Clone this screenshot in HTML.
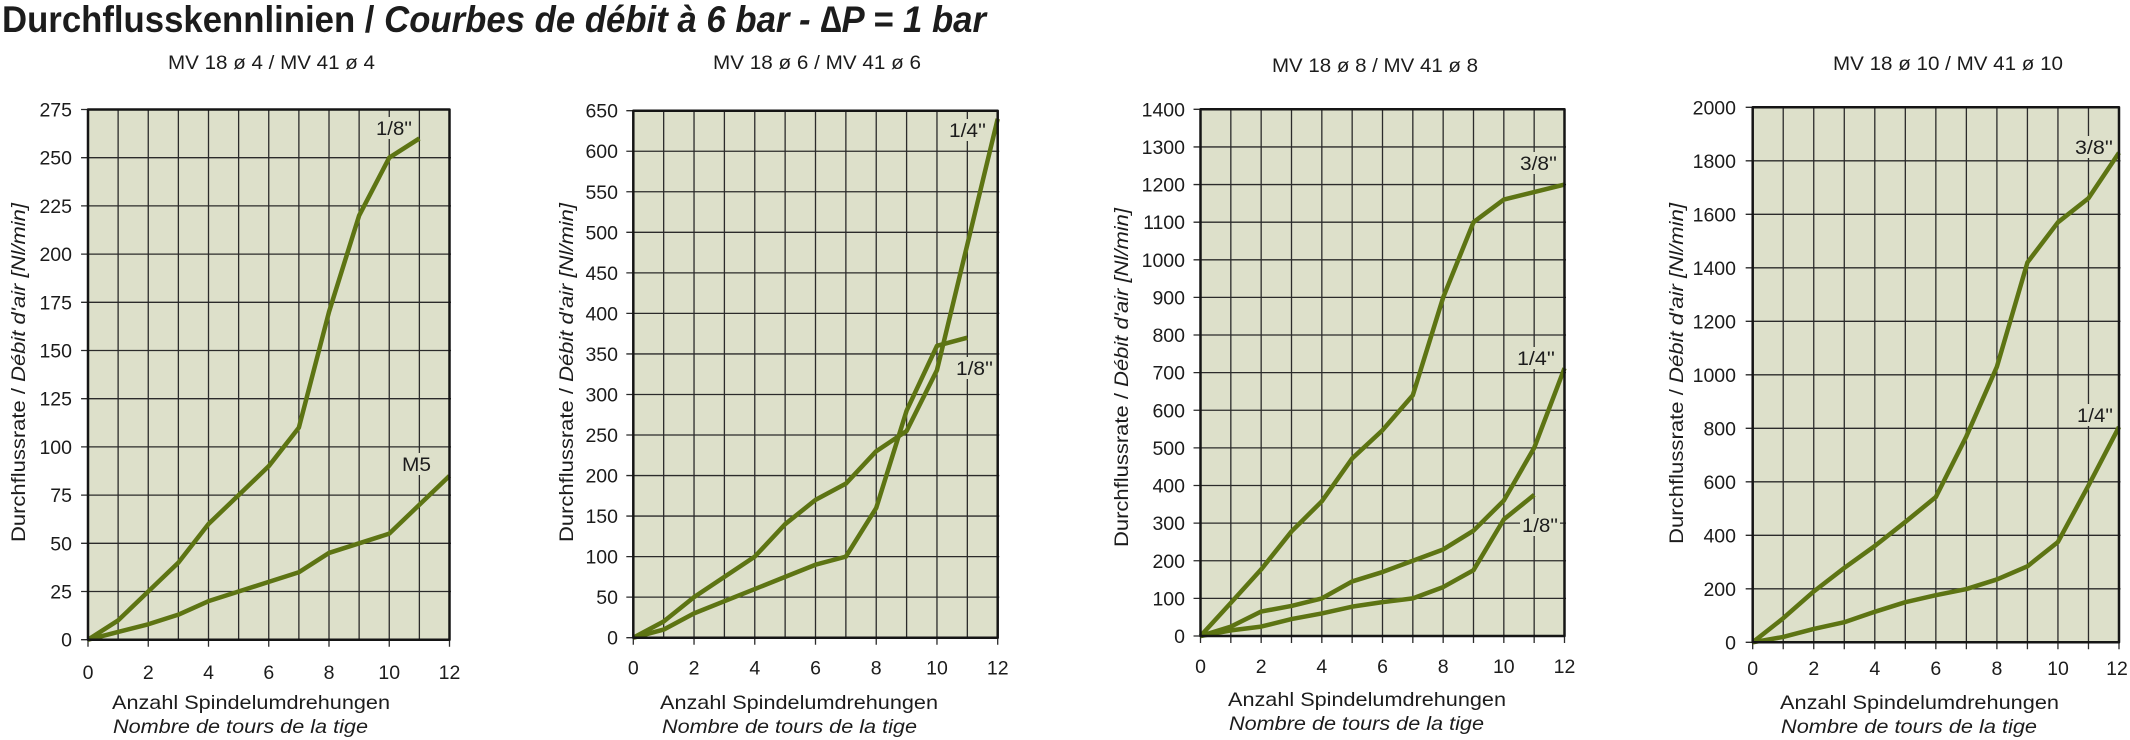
<!DOCTYPE html>
<html><head><meta charset="utf-8"><style>
html,body{margin:0;padding:0;background:#fff;}
svg{display:block;}
text{font-family:"Liberation Sans",Arial,sans-serif;fill:#1c1c1c;}
.t{font-size:19.5px;}
.it{font-style:italic;}
</style></head><body>
<svg width="2130" height="740" viewBox="0 0 2130 740" xmlns="http://www.w3.org/2000/svg">
<rect width="2130" height="740" fill="#fff"/>
<text x="2" y="32" font-size="37" font-weight="bold" textLength="984" lengthAdjust="spacingAndGlyphs">Durchflusskennlinien / <tspan font-style="italic">Courbes de débit à 6 bar - ∆P = 1 bar</tspan></text>

<!-- ===== Chart 1 ===== -->
<text class="t" x="168" y="69" textLength="207" lengthAdjust="spacingAndGlyphs">MV 18 ø 4 / MV 41 ø 4</text>
<g transform="translate(88,639.7) scale(30.125,-1.928)">
<rect x="0" y="0" width="12" height="275" fill="#dde0ca"/>
<path d="M-0.23 0H0M-0.23 275H0M-0.23 25H12.05M-0.23 50H12.05M-0.23 75H12.05M-0.23 100H12.05M-0.23 125H12.05M-0.23 150H12.05M-0.23 175H12.05M-0.23 200H12.05M-0.23 225H12.05M-0.23 250H12.05M1 0V275M2 0V275M3 0V275M4 0V275M5 0V275M6 0V275M7 0V275M8 0V275M9 0V275M10 0V275M11 0V275M0 -3.63V0M2 -3.63V0M4 -3.63V0M6 -3.63V0M8 -3.63V0M10 -3.63V0M12 -3.63V0" stroke="#2b2b2b" stroke-width="1.3" fill="none" vector-effect="non-scaling-stroke"/>
</g>
<rect x="374" y="117" width="40" height="22" fill="#dde0ca"/>
<rect x="400" y="453" width="33" height="22" fill="#dde0ca"/>
<g transform="translate(88,639.7) scale(30.125,-1.928)" fill="none" stroke="#5d7413" stroke-width="4.5" stroke-linejoin="round" vector-effect="non-scaling-stroke">
<polyline vector-effect="non-scaling-stroke" points="0,0 1,10 2,25 3,40 4,60 5,75 6,90 7,110 8,170 9,220 10,250 11,260"/>
<polyline vector-effect="non-scaling-stroke" points="0,0 1,4 2,8 3,13 4,20 5,25 6,30 7,35 8,45 9,50 10,55 11,70 12,85"/>
<rect x="0" y="0" width="12" height="275" stroke="#151515" stroke-width="2.5" vector-effect="non-scaling-stroke"/>
</g>
<text class="t" x="376" y="135" textLength="36" lengthAdjust="spacingAndGlyphs">1/8''</text>
<text class="t" x="402" y="471" textLength="29" lengthAdjust="spacingAndGlyphs">M5</text>
<g class="t" text-anchor="end">
<text x="72" y="646.7">0</text><text x="72" y="598.5">25</text><text x="72" y="550.3">50</text><text x="72" y="502.1">75</text><text x="72" y="453.9">100</text><text x="72" y="405.7">125</text><text x="72" y="357.5">150</text><text x="72" y="309.3">175</text><text x="72" y="261.1">200</text><text x="72" y="212.9">225</text><text x="72" y="164.7">250</text><text x="72" y="116.5">275</text>
</g>
<g class="t" text-anchor="middle">
<text x="88" y="679">0</text><text x="148.25" y="679">2</text><text x="208.5" y="679">4</text><text x="268.75" y="679">6</text><text x="329" y="679">8</text><text x="389.25" y="679">10</text><text x="449.5" y="679">12</text>
</g>
<text class="t" x="112" y="709" textLength="278" lengthAdjust="spacingAndGlyphs">Anzahl Spindelumdrehungen</text>
<text class="t it" x="113" y="733" textLength="255" lengthAdjust="spacingAndGlyphs">Nombre de tours de la tige</text>
<text class="t" text-anchor="middle" transform="translate(25,372.5) rotate(-90)" textLength="339" lengthAdjust="spacingAndGlyphs">Durchflussrate / <tspan class="it">Débit d'air [Nl/min]</tspan></text>

<!-- ===== Chart 2 ===== -->
<text class="t" x="713" y="69" textLength="208" lengthAdjust="spacingAndGlyphs">MV 18 ø 6 / MV 41 ø 6</text>
<g transform="translate(633.3,637.7) scale(30.367,-0.81077)">
<rect x="0" y="0" width="12" height="650" fill="#dde0ca"/>
<path d="M-0.23 0H0M-0.23 650H0M-0.23 50H12.05M-0.23 100H12.05M-0.23 150H12.05M-0.23 200H12.05M-0.23 250H12.05M-0.23 300H12.05M-0.23 350H12.05M-0.23 400H12.05M-0.23 450H12.05M-0.23 500H12.05M-0.23 550H12.05M-0.23 600H12.05M1 0V650M2 0V650M3 0V650M4 0V650M5 0V650M6 0V650M7 0V650M8 0V650M9 0V650M10 0V650M11 0V650M0 -8.63V0M2 -8.63V0M4 -8.63V0M6 -8.63V0M8 -8.63V0M10 -8.63V0M12 -8.63V0" stroke="#2b2b2b" stroke-width="1.3" fill="none" vector-effect="non-scaling-stroke"/>
</g>
<rect x="947" y="119" width="41" height="22" fill="#dde0ca"/>
<rect x="954" y="357" width="41" height="22" fill="#dde0ca"/>
<g transform="translate(633.3,637.7) scale(30.367,-0.81077)" fill="none" stroke="#5d7413" stroke-width="4.5" stroke-linejoin="round">
<polyline vector-effect="non-scaling-stroke" points="0,0 1,10 2,30 3,45 4,60 5,75 6,90 7,100 8,160 9,280 10,360 11,370"/>
<polyline vector-effect="non-scaling-stroke" points="0,0 1,20 2,50 3,75 4,100 5,140 6,170 7,190 8,230 9,255 10,330 11,485 12,640"/>
<rect x="0" y="0" width="12" height="650" stroke="#151515" stroke-width="2.5" vector-effect="non-scaling-stroke"/>
</g>
<text class="t" x="949" y="137" textLength="37" lengthAdjust="spacingAndGlyphs">1/4''</text>
<text class="t" x="956" y="375" textLength="37" lengthAdjust="spacingAndGlyphs">1/8''</text>
<g class="t" text-anchor="end">
<text x="618" y="644.7">0</text><text x="618" y="604.2">50</text><text x="618" y="563.6">100</text><text x="618" y="523.1">150</text><text x="618" y="482.5">200</text><text x="618" y="442">250</text><text x="618" y="401.5">300</text><text x="618" y="360.9">350</text><text x="618" y="320.4">400</text><text x="618" y="279.8">450</text><text x="618" y="239.3">500</text><text x="618" y="198.8">550</text><text x="618" y="158.2">600</text><text x="618" y="117.7">650</text>
</g>
<g class="t" text-anchor="middle">
<text x="633.3" y="674.5">0</text><text x="694" y="674.5">2</text><text x="754.8" y="674.5">4</text><text x="815.5" y="674.5">6</text><text x="876.2" y="674.5">8</text><text x="937" y="674.5">10</text><text x="997.7" y="674.5">12</text>
</g>
<text class="t" x="660" y="709" textLength="278" lengthAdjust="spacingAndGlyphs">Anzahl Spindelumdrehungen</text>
<text class="t it" x="662" y="733" textLength="255" lengthAdjust="spacingAndGlyphs">Nombre de tours de la tige</text>
<text class="t" text-anchor="middle" transform="translate(573,372.5) rotate(-90)" textLength="339" lengthAdjust="spacingAndGlyphs">Durchflussrate / <tspan class="it">Débit d'air [Nl/min]</tspan></text>

<!-- ===== Chart 3 ===== -->
<text class="t" x="1272" y="72" textLength="206" lengthAdjust="spacingAndGlyphs">MV 18 ø 8 / MV 41 ø 8</text>
<g transform="translate(1200.5,636) scale(30.333,-0.37621)">
<rect x="0" y="0" width="12" height="1400" fill="#dde0ca"/>
<path d="M-0.23 0H0M-0.23 1400H0M-0.23 100H12.05M-0.23 200H12.05M-0.23 300H12.05M-0.23 400H12.05M-0.23 500H12.05M-0.23 600H12.05M-0.23 700H12.05M-0.23 800H12.05M-0.23 900H12.05M-0.23 1000H12.05M-0.23 1100H12.05M-0.23 1200H12.05M-0.23 1300H12.05M1 -18.6V1400M2 -18.6V1400M3 -18.6V1400M4 -18.6V1400M5 -18.6V1400M6 -18.6V1400M7 -18.6V1400M8 -18.6V1400M9 -18.6V1400M10 -18.6V1400M11 -18.6V1400M0 -18.6V0M12 -18.6V0" stroke="#2b2b2b" stroke-width="1.3" fill="none" vector-effect="non-scaling-stroke"/>
</g>
<rect x="1518" y="152" width="41" height="22" fill="#dde0ca"/>
<rect x="1515" y="347" width="42" height="22" fill="#dde0ca"/>
<rect x="1520" y="514" width="40" height="22" fill="#dde0ca"/>
<g transform="translate(1200.5,636) scale(30.333,-0.37621)" fill="none" stroke="#5d7413" stroke-width="4.5" stroke-linejoin="round">
<polyline vector-effect="non-scaling-stroke" points="0,0 1,88 2,177 3,278 4,358 5,472 6,547 7,640 8,900 9,1100 10,1160 11,1180 12,1200"/>
<polyline vector-effect="non-scaling-stroke" points="0,0 1,25 2,65 3,80 4,100 5,145 6,170 7,200 8,230 9,280 10,360 11,500 12,712"/>
<polyline vector-effect="non-scaling-stroke" points="0,0 1,15 2,25 3,45 4,60 5,78 6,90 7,100 8,130 9,175 10,310 11,375"/>
<rect x="0" y="0" width="12" height="1400" stroke="#151515" stroke-width="2.5" vector-effect="non-scaling-stroke"/>
</g>
<text class="t" x="1520" y="170" textLength="37" lengthAdjust="spacingAndGlyphs">3/8''</text>
<text class="t" x="1517" y="365" textLength="38" lengthAdjust="spacingAndGlyphs">1/4''</text>
<text class="t" x="1522" y="532" textLength="36" lengthAdjust="spacingAndGlyphs">1/8''</text>
<g class="t" text-anchor="end">
<text x="1185" y="643">0</text><text x="1185" y="605.4">100</text><text x="1185" y="567.8">200</text><text x="1185" y="530.1">300</text><text x="1185" y="492.5">400</text><text x="1185" y="454.9">500</text><text x="1185" y="417.3">600</text><text x="1185" y="379.7">700</text><text x="1185" y="342">800</text><text x="1185" y="304.4">900</text><text x="1185" y="266.8">1000</text><text x="1185" y="229.2">1100</text><text x="1185" y="191.5">1200</text><text x="1185" y="153.9">1300</text><text x="1185" y="116.3">1400</text>
</g>
<g class="t" text-anchor="middle">
<text x="1200.5" y="673">0</text><text x="1261.2" y="673">2</text><text x="1321.8" y="673">4</text><text x="1382.5" y="673">6</text><text x="1443.2" y="673">8</text><text x="1503.8" y="673">10</text><text x="1564.5" y="673">12</text>
</g>
<text class="t" x="1228" y="706" textLength="278" lengthAdjust="spacingAndGlyphs">Anzahl Spindelumdrehungen</text>
<text class="t it" x="1229" y="730" textLength="255" lengthAdjust="spacingAndGlyphs">Nombre de tours de la tige</text>
<text class="t" text-anchor="middle" transform="translate(1128,377.5) rotate(-90)" textLength="339" lengthAdjust="spacingAndGlyphs">Durchflussrate / <tspan class="it">Débit d'air [Nl/min]</tspan></text>

<!-- ===== Chart 4 ===== -->
<text class="t" x="1833" y="70" textLength="230" lengthAdjust="spacingAndGlyphs">MV 18 ø 10 / MV 41 ø 10</text>
<g transform="translate(1752.7,642.3) scale(30.525,-0.2675)">
<rect x="0" y="0" width="12" height="2000" fill="#dde0ca"/>
<path d="M-0.23 0H0M-0.23 2000H0M-0.23 200H12.05M-0.23 400H12.05M-0.23 600H12.05M-0.23 800H12.05M-0.23 1000H12.05M-0.23 1200H12.05M-0.23 1400H12.05M-0.23 1600H12.05M-0.23 1800H12.05M1 -26.2V2000M2 -26.2V2000M3 -26.2V2000M4 -26.2V2000M5 -26.2V2000M6 -26.2V2000M7 -26.2V2000M8 -26.2V2000M9 -26.2V2000M10 -26.2V2000M11 -26.2V2000M0 -26.2V0M12 -26.2V0" stroke="#2b2b2b" stroke-width="1.3" fill="none" vector-effect="non-scaling-stroke"/>
</g>
<rect x="2073" y="136" width="42" height="22" fill="#dde0ca"/>
<rect x="2075" y="404" width="40" height="22" fill="#dde0ca"/>
<g transform="translate(1752.7,642.3) scale(30.525,-0.2675)" fill="none" stroke="#5d7413" stroke-width="4.5" stroke-linejoin="round">
<polyline vector-effect="non-scaling-stroke" points="0,0 1,90 2,190 3,278 4,360 5,450 6,543 7,770 8,1030 9,1420 10,1570 11,1660 12,1830"/>
<polyline vector-effect="non-scaling-stroke" points="0,0 1,20 2,50 3,75 4,114 5,150 6,176 7,199 8,235 9,284 10,375 11,586 12,805"/>
<rect x="0" y="0" width="12" height="2000" stroke="#151515" stroke-width="2.5" vector-effect="non-scaling-stroke"/>
</g>
<text class="t" x="2075" y="154" textLength="38" lengthAdjust="spacingAndGlyphs">3/8''</text>
<text class="t" x="2077" y="422" textLength="36" lengthAdjust="spacingAndGlyphs">1/4''</text>
<g class="t" text-anchor="end">
<text x="1736" y="649.3">0</text><text x="1736" y="595.8">200</text><text x="1736" y="542.3">400</text><text x="1736" y="488.8">600</text><text x="1736" y="435.3">800</text><text x="1736" y="381.8">1000</text><text x="1736" y="328.3">1200</text><text x="1736" y="274.8">1400</text><text x="1736" y="221.3">1600</text><text x="1736" y="167.8">1800</text><text x="1736" y="114.3">2000</text>
</g>
<g class="t" text-anchor="middle">
<text x="1752.7" y="674.8">0</text><text x="1813.75" y="674.8">2</text><text x="1874.8" y="674.8">4</text><text x="1935.85" y="674.8">6</text><text x="1996.9" y="674.8">8</text><text x="2057.95" y="674.8">10</text><text x="2117" y="674.8">12</text>
</g>
<text class="t" x="1780" y="709" textLength="279" lengthAdjust="spacingAndGlyphs">Anzahl Spindelumdrehungen</text>
<text class="t it" x="1781" y="733" textLength="256" lengthAdjust="spacingAndGlyphs">Nombre de tours de la tige</text>
<text class="t" text-anchor="middle" transform="translate(1683,373.5) rotate(-90)" textLength="341" lengthAdjust="spacingAndGlyphs">Durchflussrate / <tspan class="it">Débit d'air [Nl/min]</tspan></text>
</svg>
</body></html>
